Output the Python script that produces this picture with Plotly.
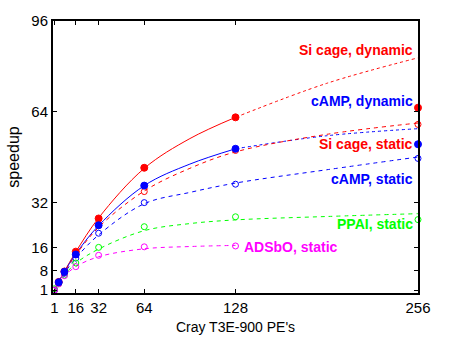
import plotly.graph_objects as go

# Measured speedups on the Cray T3E-900
pes_dyn = [4, 8, 16, 32, 64, 128, 256]
si_dyn = [3.9, 7.6, 14.6, 26.3, 44.2, 62.0, 65.4]
camp_dyn = [3.8, 7.5, 13.6, 23.9, 37.9, 50.9, 52.5]

pes_static = [1, 4, 8, 16, 32, 64, 128, 256]
si_static = [1.0, 3.8, 7.4, 13.5, 24.0, 35.8, 50.3, 59.5]
camp_static = [1.0, 3.7, 7.0, 12.3, 21.1, 31.9, 38.4, 47.5]
ppai_static = [1.5, 3.3, 6.3, 10.6, 16.1, 23.4, 26.9, 25.9]

pes_adsbo = [1, 4, 8, 16, 32, 64, 128]
adsbo_static = [1.0, 3.2, 6.1, 9.3, 13.3, 16.3, 16.6]

# Fitted scaling curves (sampled)
fit_pes = [1, 4, 8, 16, 32, 64, 96, 128, 192, 256]
si_dyn_fit = [1, 3.9, 7.6, 14.5, 26.5, 44.0, 54.5, 62.0, 74.0, 83.0]
camp_dyn_fit = [1, 3.9, 7.5, 13.8, 23.8, 37.9, 45.5, 50.9, 55.5, 58.0]
si_static_fit = [1, 3.9, 7.4, 13.4, 23.2, 36.0, 44.0, 49.8, 56.0, 60.0]
camp_static_fit = [1, 3.8, 7.0, 12.3, 20.5, 31.5, 35.5, 38.8, 43.5, 48.0]
ppai_static_fit = [1, 3.5, 6.3, 10.5, 15.5, 22.0, 24.5, 25.8, 27.0, 28.0]
adsbo_fit_pes = [1, 4, 8, 16, 32, 64, 96, 128]
adsbo_static_fit = [1, 3.5, 6.0, 9.3, 12.8, 15.6, 16.4, 16.8]

x_ticks = [1, 16, 32, 64, 128, 256]
y_ticks = [1, 8, 16, 32, 64, 96]

RED, BLUE, GREEN, MAGENTA = "#ff0000", "#0000ff", "#00ff00", "#ff00ff"
FONT = "Liberation Sans, Arial"

fig = go.Figure()


def curve(xs, ys, color, dash, width=1):
    fig.add_trace(go.Scatter(x=xs, y=ys, mode="lines",
                             line=dict(color=color, dash=dash, width=width, shape="spline"),
                             hoverinfo="skip"))


def split_at(xs, ys, cut):
    lo = [(x, y) for x, y in zip(xs, ys) if x <= cut]
    hi = [(x, y) for x, y in zip(xs, ys) if x >= cut]
    return [p[0] for p in lo], [p[1] for p in lo], [p[0] for p in hi], [p[1] for p in hi]


# dynamic fits: solid within the measured range, dotted extrapolation beyond 128 PEs
for ys, color in [(si_dyn_fit, RED), (camp_dyn_fit, BLUE)]:
    x1, y1, x2, y2 = split_at(fit_pes, ys, 128)
    curve(x1, y1, color, "solid")
    curve(x2, y2, color, "dot")

for ys, color in [(si_static_fit, RED), (camp_static_fit, BLUE), (ppai_static_fit, GREEN)]:
    curve(fit_pes, ys, color, "4px,4px")
curve(adsbo_fit_pes, adsbo_static_fit, MAGENTA, "4px,4px")


def pts(xs, ys, color, filled):
    fig.add_trace(go.Scatter(
        x=xs, y=ys, mode="markers",
        marker=dict(symbol="circle" if filled else "circle-open", size=7 if filled else 6,
                    color=color, line=dict(color=color, width=1)),
        cliponaxis=False))


pts(pes_static, si_static, RED, False)
pts(pes_static, camp_static, BLUE, False)
pts(pes_static, ppai_static, GREEN, False)
pts(pes_adsbo, adsbo_static, MAGENTA, False)
pts(pes_dyn, si_dyn, RED, True)
pts(pes_dyn, camp_dyn, BLUE, True)

labels = [
    ("Si cage, dynamic", 254, 85.7, RED, "right"),
    ("cAMP, dynamic", 254, 67.7, BLUE, "right"),
    ("Si cage, static", 254, 52.7, RED, "right"),
    ("cAMP, static", 254, 40.1, BLUE, "right"),
    ("PPAI, static", 254, 24.5, GREEN, "right"),
    ("ADSbO, static", 132.5, 16.3, MAGENTA, "left"),
]
for text, x, y, color, anchor in labels:
    fig.add_annotation(x=x, y=y, text="<b>%s</b>" % text, showarrow=False,
                       xanchor=anchor, yanchor="middle",
                       font=dict(family=FONT, size=14, color=color))

axis_common = dict(showgrid=False, zeroline=False, showline=True, linecolor="black",
                   linewidth=2, mirror="ticks", ticks="inside", ticklen=4, tickwidth=1,
                   tickcolor="black",
                   tickfont=dict(family=FONT, size=15, color="black"))

fig.update_layout(
    width=449, height=345,
    margin=dict(l=49, r=31, t=16, b=47),
    paper_bgcolor="white", plot_bgcolor="white",
    showlegend=False,
    xaxis=dict(range=[0, 256], tickvals=x_ticks, ticktext=[str(v) for v in x_ticks],
               title=dict(text="Cray T3E-900 PE's", standoff=7,
                          font=dict(family=FONT, size=14, color="black")),
               **axis_common),
    yaxis=dict(range=[0, 96], tickvals=y_ticks, ticktext=[str(v) for v in y_ticks],
               title=dict(text="speedup", standoff=8,
                          font=dict(family=FONT, size=16, color="black")),
               **axis_common),
)

fig.write_html("out.html")
